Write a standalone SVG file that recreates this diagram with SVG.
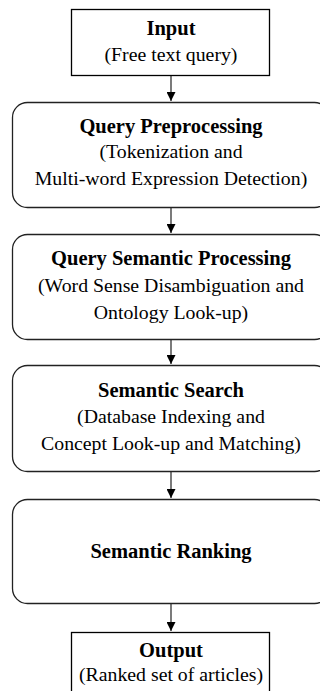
<svg xmlns="http://www.w3.org/2000/svg" width="320" height="691" viewBox="0 0 320 691">
  <defs>
    <style>
      .box { fill: #ffffff; stroke: #000000; stroke-width: 1.3; }
      .stage { fill: #ffffff; stroke: #222222; stroke-width: 1.3; }
      .title { font-family: "Liberation Serif", "Times New Roman", serif; font-weight: bold; font-size: 20.5px; fill: #000000; text-anchor: middle; }
      .sub { font-family: "Liberation Serif", "Times New Roman", serif; font-size: 19.8px; fill: #000000; text-anchor: middle; }
      .link { stroke: #333333; stroke-width: 1.3; fill: none; marker-end: url(#arrow); }
    </style>
    <marker id="arrow" viewBox="0 0 10 10" refX="10" refY="5" markerWidth="9" markerHeight="9" markerUnits="userSpaceOnUse" orient="auto">
      <path d="M0,0 L10,5 L0,10 Z" fill="#000000"/>
    </marker>
  </defs>
  <rect width="320" height="691" fill="#ffffff"/>

  <g id="connectors">
    <line class="link" x1="171" y1="75" x2="171" y2="101"/>
    <line class="link" x1="171" y1="207" x2="171" y2="233"/>
    <line class="link" x1="171" y1="339" x2="171" y2="364"/>
    <line class="link" x1="171" y1="472" x2="171" y2="498"/>
    <line class="link" x1="171" y1="604" x2="171" y2="631"/>
  </g>

  <g id="input">
    <rect class="box" x="71.5" y="9.5" width="198" height="66"/>
    <text class="title" x="171" y="35">Input</text>
    <text class="sub" x="171" y="61">(Free text query)</text>
  </g>

  <g id="query-preprocessing">
    <rect class="stage" x="12.5" y="102.5" width="317" height="105" rx="15" ry="15"/>
    <text class="title" x="171" y="133">Query Preprocessing</text>
    <text class="sub" x="171" y="158">(Tokenization and</text>
    <text class="sub" x="171" y="185">Multi-word Expression Detection)</text>
  </g>

  <g id="query-semantic-processing">
    <rect class="stage" x="12.5" y="234.5" width="317" height="105" rx="15" ry="15"/>
    <text class="title" x="171" y="265">Query Semantic Processing</text>
    <text class="sub" x="171" y="292">(Word Sense Disambiguation and</text>
    <text class="sub" x="171" y="319">Ontology Look-up)</text>
  </g>

  <g id="semantic-search">
    <rect class="stage" x="12.5" y="365.5" width="317" height="106" rx="15" ry="15"/>
    <text class="title" x="171" y="397">Semantic Search</text>
    <text class="sub" x="171" y="423">(Database Indexing and</text>
    <text class="sub" x="171" y="450">Concept Look-up and Matching)</text>
  </g>

  <g id="semantic-ranking">
    <rect class="stage" x="12.5" y="499.5" width="317" height="104" rx="15" ry="15"/>
    <text class="title" x="171" y="558">Semantic Ranking</text>
  </g>

  <g id="output">
    <rect class="box" x="71.5" y="632.5" width="198" height="70"/>
    <text class="title" x="171" y="657">Output</text>
    <text class="sub" x="171" y="681">(Ranked set of articles)</text>
  </g>
</svg>
